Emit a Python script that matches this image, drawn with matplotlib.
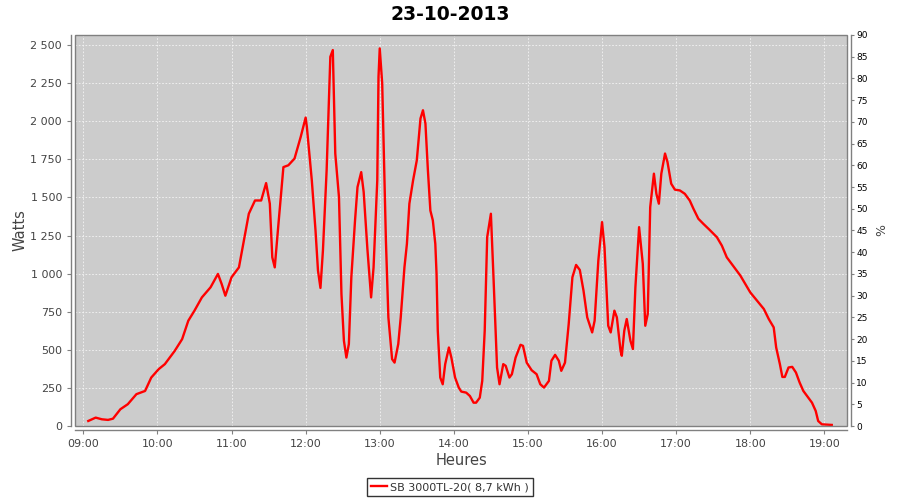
import matplotlib
matplotlib.use("Agg")
import matplotlib.pyplot as plt
import matplotlib.dates as mdates
from matplotlib.ticker import FuncFormatter, MultipleLocator
from matplotlib.patches import Rectangle
import pandas as pd

# data (power of the inverter, W)
day = "2013-10-23"
times = [
    "09:04", "09:10", "09:15", "09:20", "09:24", "09:30", "09:36", "09:43", "09:50", "09:55",
    "10:01", "10:06", "10:14", "10:20", "10:25", "10:30", "10:36", "10:43", "10:49", "10:52",
    "10:55", "11:00", "11:06", "11:10", "11:14", "11:19", "11:24", "11:28", "11:31", "11:33",
    "11:35", "11:38", "11:42", "11:46", "11:51", "11:56", "12:00", "12:01", "12:05", "12:08",
    "12:10", "12:12", "12:14", "12:17", "12:20", "12:22", "12:24", "12:27", "12:29", "12:31",
    "12:33", "12:35", "12:37", "12:40", "12:42", "12:45", "12:47", "12:50", "12:53", "12:55",
    "12:58", "12:59", "13:00", "13:02", "13:05", "13:07", "13:10", "13:12", "13:15", "13:17",
    "13:20", "13:22", "13:24", "13:27", "13:30", "13:33", "13:35", "13:37", "13:39", "13:41",
    "13:43", "13:45", "13:46", "13:47", "13:49", "13:51", "13:53", "13:56", "13:58", "14:01",
    "14:04", "14:06", "14:10", "14:13", "14:16", "14:18", "14:21", "14:23", "14:25", "14:27",
    "14:30", "14:32", "14:35", "14:37", "14:40", "14:42", "14:45", "14:47", "14:50", "14:54",
    "14:56", "14:59", "15:03", "15:07", "15:10", "15:13", "15:17", "15:19", "15:22", "15:25",
    "15:27", "15:30", "15:33", "15:36", "15:39", "15:42", "15:45", "15:48", "15:52", "15:54",
    "15:57", "16:00", "16:02", "16:05", "16:07", "16:10", "16:12", "16:15", "16:16", "16:18",
    "16:20", "16:23", "16:25", "16:27", "16:30", "16:33", "16:35", "16:37", "16:39", "16:42",
    "16:44", "16:46", "16:48", "16:51", "16:53", "16:56", "16:59", "17:03", "17:07", "17:11",
    "17:14", "17:18", "17:22", "17:27", "17:33", "17:37", "17:41", "17:46", "17:52", "17:56",
    "18:00", "18:05", "18:11", "18:15", "18:19", "18:21", "18:24", "18:26", "18:28", "18:31",
    "18:34", "18:37", "18:40", "18:43", "18:47", "18:50", "18:53", "18:55", "18:58", "19:06",
]
watts = [
    33, 55, 44, 40, 48, 110, 143, 209, 230, 318,
    373, 406, 493, 570, 691, 757, 844, 910, 998, 932,
    855, 976, 1041, 1217, 1393, 1480, 1480, 1594, 1459, 1107,
    1041, 1327, 1699, 1711, 1755, 1897, 2024, 1963, 1612, 1283,
    1020, 906, 1151, 1678, 2423, 2467, 1788, 1502, 866, 559,
    449, 538, 976, 1349, 1568, 1666, 1535, 1163, 844, 1041,
    1612, 2291, 2478, 2248, 1217, 713, 439, 416, 538, 713,
    1041, 1195, 1459, 1612, 1743, 2018, 2072, 1985, 1678, 1414,
    1349, 1195, 998, 625, 318, 274, 406, 515, 449, 318,
    252, 226, 219, 197, 153, 153, 186, 296, 625, 1239,
    1393, 998, 384, 274, 406, 395, 318, 340, 449, 533,
    526, 416, 366, 340, 274, 252, 296, 428, 467, 428,
    362, 416, 669, 976, 1057, 1024, 888, 713, 614, 691,
    1086, 1338, 1173, 658, 614, 757, 713, 493, 461, 625,
    702, 559, 505, 910, 1305, 1064, 658, 735, 1436, 1656,
    1524, 1459, 1656, 1788, 1732, 1590, 1551, 1546, 1524, 1480,
    1426, 1360, 1327, 1288, 1239, 1184, 1107, 1053, 987, 932,
    877, 827, 768, 702, 647, 515, 406, 322, 322, 384,
    388, 351, 285, 230, 186, 153, 99, 33, 11, 7,
]
title = "23-10-2013"
series_label = "SB 3000TL-20( 8,7 kWh )"

t = pd.to_datetime([f"{day} {h}" for h in times])

gray_txt = "#444444"
frame = "#808080"

fig = plt.figure(figsize=(9, 5), dpi=100)
ax = fig.add_axes([75.3 / 900, 1 - 426 / 500, (846.7 - 75.3) / 900, (426 - 35) / 500])
ax.set_facecolor("#cccccc")

ax.plot(t, watts, color="red", lw=1.7, label=series_label, zorder=3)

ax.set_xlim(pd.Timestamp(f"{day} 08:53:30"), pd.Timestamp(f"{day} 19:18:06"))
ax.set_ylim(0, 2566)

ax.xaxis.set_major_locator(mdates.HourLocator())
ax.xaxis.set_major_formatter(mdates.DateFormatter("%H:%M"))
ax.yaxis.set_major_locator(MultipleLocator(250))
ax.yaxis.set_major_formatter(FuncFormatter(lambda v, p: f"{int(v):,}".replace(",", " ")))

ax.grid(True, color="#f4f4f4", linestyle=(0, (2, 2)), linewidth=0.6)
ax.set_axisbelow(True)

# plot frame + offset axis lines (jfreechart look)
ax.add_patch(Rectangle((0, 0), 1, 1, transform=ax.transAxes, fill=False,
                       edgecolor=frame, lw=1.0, zorder=4, clip_on=False))
for s in ["top", "right"]:
    ax.spines[s].set_visible(False)
for s in ["left", "bottom"]:
    ax.spines[s].set_position(("outward", 3))
    ax.spines[s].set_color(frame)
    ax.spines[s].set_linewidth(1.0)

ax.tick_params(axis="both", colors=frame, labelcolor=gray_txt, labelsize=8, length=3, width=0.8)

ax.set_xlabel("Heures", fontsize=10.5, color=gray_txt, labelpad=3)
ax.set_ylabel("Watts", fontsize=10.5, color=gray_txt, labelpad=2)

ax2 = ax.twinx()
ax2.set_ylim(0, 90)
ax2.yaxis.set_major_locator(MultipleLocator(5))
for s in ["top", "left", "bottom"]:
    ax2.spines[s].set_visible(False)
ax2.spines["right"].set_position(("outward", 3))
ax2.spines["right"].set_color(frame)
ax2.spines["right"].set_linewidth(1.0)
ax2.tick_params(axis="y", colors=frame, labelcolor="black", labelsize=6.5, length=2, width=0.8, pad=2)
ax2.set_ylabel("%", fontsize=9, color=gray_txt, labelpad=5)

fig.text(0.5, 1 - 14 / 500, title, ha="center", va="center", fontsize=13.5, fontweight="bold")

leg = fig.legend(loc="center", bbox_to_anchor=(450 / 900, 1 - 487 / 500), fontsize=8,
                 frameon=True, fancybox=False, handlelength=1.4, handletextpad=0.3,
                 borderpad=0.4, labelcolor="#333333")
leg.get_frame().set_edgecolor("black")
leg.get_frame().set_linewidth(1.0)

fig.savefig("out.png", dpi=100, facecolor="white")
